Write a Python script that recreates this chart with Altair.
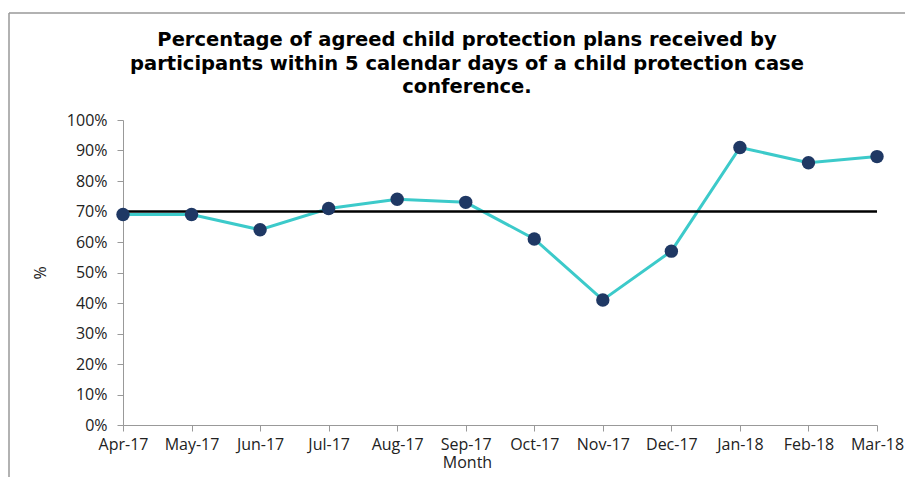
import altair as alt
import pandas as pd

months = ["Apr-17", "May-17", "Jun-17", "Jul-17", "Aug-17", "Sep-17",
          "Oct-17", "Nov-17", "Dec-17", "Jan-18", "Feb-18", "Mar-18"]
values = [69, 69, 64, 71, 74, 73, 61, 41, 57, 91, 86, 88]
target = [70] * len(months)
title_lines = ["Percentage of agreed child protection plans received by",
               "participants within 5 calendar days of a child protection case",
               "conference."]
y_ticks = [0, 10, 20, 30, 40, 50, 60, 70, 80, 90, 100]

df = pd.DataFrame({"Month": months, "Value": [v / 100 for v in values],
                   "Target": [t / 100 for t in target]})

W, H = 754, 305

xaxis = alt.Axis(title="Month", labelAngle=0, labelFontSize=16,
                 labelFont="Open Sans", labelColor="#222",
                 titleFont="Open Sans", titleFontSize=16, titleFontWeight="normal",
                 titleColor="#222", titlePadding=2, titleX=344,
                 domainColor="#999", tickColor="#999", tickSize=6,
                 labelPadding=5, grid=False, labelOverlap=False)
yscale = alt.Scale(domain=[0, 1], nice=False)
yaxis = alt.Axis(title="%", format=".0%", values=[v / 100 for v in y_ticks],
                 labelFontSize=16, labelFont="Open Sans", labelColor="#222",
                 titleFont="Open Sans", titleFontSize=16, titleFontWeight="normal",
                 titleColor="#222", titlePadding=18, labelOverlap=False,
                 domainColor="#999", tickColor="#999", tickSize=6, labelPadding=10,
                 grid=False)
xenc = alt.X("Month:N", sort=months, scale=alt.Scale(type="point", padding=0), axis=xaxis)

base = alt.Chart(df)
one = alt.Chart(pd.DataFrame({"a": [0]}))

border_top = one.mark_rule(color="#999999", strokeWidth=1.5, clip=False).encode(
    x=alt.value(-114), x2=alt.value(792), y=alt.value(-107))
border_left = one.mark_rule(color="#999999", strokeWidth=1.5, clip=False).encode(
    x=alt.value(-114), y=alt.value(-107), y2=alt.value(370))

line = base.mark_line(color="#3CCACA", strokeWidth=3).encode(
    x=xenc, y=alt.Y("Value:Q", scale=yscale, axis=yaxis))
target_line = base.mark_line(color="#000000", strokeWidth=2.5).encode(
    x=xenc, y=alt.Y("Target:Q", scale=yscale, axis=yaxis))
points = base.mark_point(filled=True, color="#1F3864", opacity=1, size=180,
                         shape="circle").encode(
    x=xenc, y=alt.Y("Value:Q", scale=yscale, axis=yaxis))

title_layers = []
for i, t in enumerate(title_lines):
    title_layers.append(
        alt.Chart(pd.DataFrame({"t": [t]})).mark_text(
            font="DejaVu Sans", fontSize=19.5, fontWeight="bold", color="#000",
            align="center", baseline="middle").encode(
            text="t:N", x=alt.value(344), y=alt.value(-80 + 23.5 * i)))

chart = alt.layer(border_top, border_left, line, target_line, points,
                  *title_layers).properties(
    width=W, height=H,
    padding={"left": 115, "top": 112, "right": 28, "bottom": 52},
    autosize=alt.AutoSizeParams(type="none"),
).configure_view(stroke=None)

chart.save("out.html", embed_options={"renderer": "svg", "actions": False})
